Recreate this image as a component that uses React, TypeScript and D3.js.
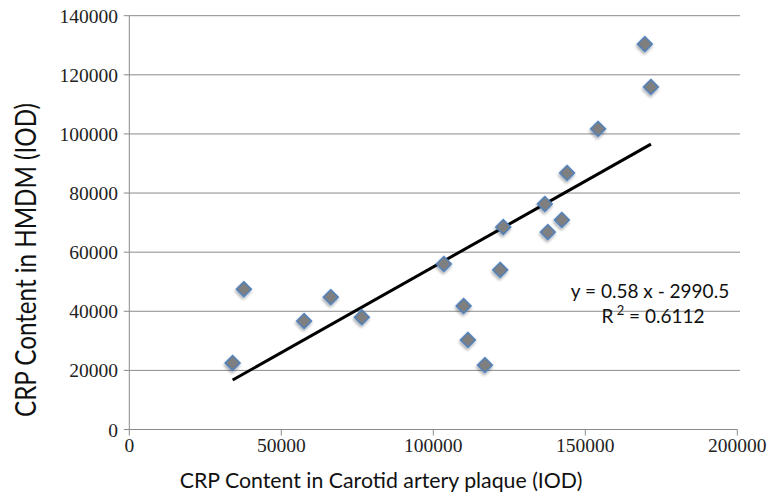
import React from "react";
import * as d3 from "d3";

const xValues = [34000, 37700, 57500, 66300, 76500, 103500, 110000, 111400, 117000, 122000, 123000, 136700, 137700, 142300, 144000, 154200, 169600, 171600];
const yValues = [22500, 47500, 36700, 44800, 38000, 56000, 41800, 30300, 21800, 54000, 68500, 76300, 66800, 70900, 86800, 101700, 130400, 115900];
const xTicks = [0, 50000, 100000, 150000, 200000];
const yTicks = [0, 20000, 40000, 60000, 80000, 100000, 120000, 140000];
const slope = 0.58;
const intercept = -2990.5;
const equationText = "y = 0.58 x - 2990.5";
const r2Value = "0.6112";
const xTitle = "CRP Content in Carotid artery plaque (IOD)";
const yTitle = "CRP  Content in HMDM (IOD)";

export default function App() {
  const W = 772, H = 495;
  const x = d3.scaleLinear().domain([0, 200000]).range([129.3, 737.3]);
  const y = d3.scaleLinear().domain([0, 140000]).range([429.5, 15.7]);
  const xMin = d3.min(xValues) as number;
  const xMax = d3.max(xValues) as number;
  const line = d3.line<number>().x(d => x(d)).y(d => y(slope * d + intercept));
  const tickFont = "'Liberation Serif', 'DejaVu Serif', serif";
  const sans = "Lato, 'Open Sans', sans-serif";
  return (
    <svg width={W} height={H} style={{ position: "absolute", left: 0, top: 0, background: "#fff" }}>
      <defs>
        <filter id="sh" x="-50%" y="-50%" width="200%" height="200%">
          <feGaussianBlur in="SourceAlpha" stdDeviation="1.5" />
          <feOffset dx="1" dy="1.5" result="b" />
          <feComponentTransfer><feFuncA type="linear" slope="0.35" /></feComponentTransfer>
          <feMerge><feMergeNode /><feMergeNode in="SourceGraphic" /></feMerge>
        </filter>
      </defs>
      {yTicks.filter(t => t > 0).map(t => (
        <line key={"g" + t} x1={x(0)} x2={740} y1={y(t)} y2={y(t)} stroke="#8a8a8a" strokeWidth={1} />
      ))}
      <line x1={x(0)} x2={x(0)} y1={y(140000)} y2={y(0)} stroke="#8a8a8a" strokeWidth={1} />
      <line x1={x(0)} x2={x(200000)} y1={y(0)} y2={y(0)} stroke="#8a8a8a" strokeWidth={1} />
      {yTicks.map(t => (
        <g key={"y" + t}>
          <line x1={x(0) - 5.5} x2={x(0)} y1={y(t)} y2={y(t)} stroke="#8a8a8a" />
          <text x={118} y={y(t) + 7} textAnchor="end" fontFamily={tickFont} fontSize={19.5} fill="#222">{t}</text>
        </g>
      ))}
      {xTicks.map(t => (
        <g key={"x" + t}>
          <line x1={x(t)} x2={x(t)} y1={y(0)} y2={y(0) + 6} stroke="#8a8a8a" />
          <text x={x(t)} y={452} textAnchor="middle" fontFamily={tickFont} fontSize={19.5} fill="#222">{t}</text>
        </g>
      ))}
      <path d={line([xMin, xMax]) || ""} stroke="#000" strokeWidth={3} fill="none" />
      {xValues.map((v, i) => (
        <rect key={"p" + i} x={-5.3} y={-5.3} width={10.6} height={10.6}
          transform={`translate(${x(v)},${y(yValues[i])}) rotate(45)`}
          fill="#7f7f7f" stroke="#4f81bd" strokeWidth={1.5} filter="url(#sh)" />
      ))}
      <text x={650} y={298} textAnchor="middle" fontFamily={sans} fontSize={19} fill="#111">{equationText}</text>
      <text x={653} y={323} textAnchor="middle" fontFamily={sans} fontSize={19} fill="#111">
        R<tspan dy={-8} fontSize={13}> 2</tspan><tspan dy={8}> = {r2Value}</tspan>
      </text>
      <text x={381} y={488} textAnchor="middle" fontFamily={sans} fontSize={21.3} fill="#111">{xTitle}</text>
      <text transform="translate(36,260) rotate(-90)" textAnchor="middle" fontFamily={sans} fontSize={28}
        textLength={314} lengthAdjust="spacingAndGlyphs" fill="#111">{yTitle}</text>
    </svg>
  );
}
